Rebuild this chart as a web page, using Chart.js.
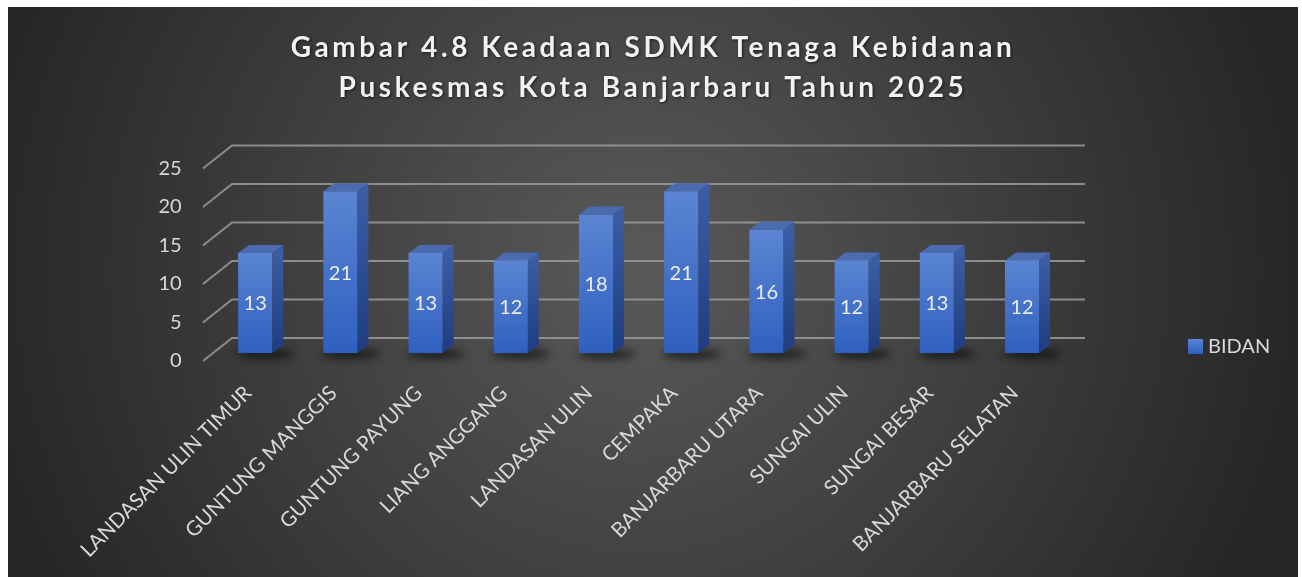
<!DOCTYPE html>
<html>
<head>
<meta charset="utf-8">
<title>Keadaan SDMK Tenaga Kebidanan</title>
<script src="https://cdn.jsdelivr.net/npm/chart.js@4.4.1/dist/chart.umd.min.js"></script>
<style>
  html, body { margin: 0; padding: 0; background: #ffffff; }
  #wrap { position: absolute; left: 8px; top: 7px; width: 1290px; height: 570px; }
</style>
</head>
<body>
<div id="wrap"><canvas id="chart" width="1290" height="570"></canvas></div>
<script>
// chart data
const titleLines = ['Gambar 4.8 Keadaan SDMK Tenaga Kebidanan', 'Puskesmas Kota Banjarbaru Tahun 2025'];
const puskesmas = [
    'LANDASAN ULIN TIMUR', 'GUNTUNG MANGGIS', 'GUNTUNG PAYUNG', 'LIANG ANGGANG', 'LANDASAN ULIN',
    'CEMPAKA', 'BANJARBARU UTARA', 'SUNGAI ULIN', 'SUNGAI BESAR', 'BANJARBARU SELATAN'
];
const bidan = [13, 21, 13, 12, 18, 21, 16, 12, 13, 12];
const yTicks = [0, 5, 10, 15, 20, 25];
const seriesName = 'BIDAN';

const FONT = 'Lato, "Open Sans", sans-serif';
const TEXT_COLOR = '#d9d9d9';
// fake 3D depth of the bars and of the walls
const BAR_DX = 11, BAR_DY = -8;
const WALL_FRONT = { dx: -9.6, dy: 8 };
const WALL_BACK = { dx: 19.4, dy: -15 };

function frontGradient(ctx, top, base) {
    const g = ctx.createLinearGradient(0, top, 0, base);
    g.addColorStop(0, '#5b85d3');
    g.addColorStop(1, '#2f60c0');
    return g;
}

// dark radial background like the office theme
const backgroundPlugin = {
    id: 'background',
    beforeDraw(chart) {
        const { ctx, width, height } = chart;
        const g = ctx.createRadialGradient(630, 260, 20, 630, 260, 680);
        g.addColorStop(0, '#585858');
        g.addColorStop(0.55, '#3c3c3c');
        g.addColorStop(1, '#252525');
        ctx.save();
        ctx.fillStyle = g;
        ctx.fillRect(0, 0, width, height);
        ctx.restore();
    }
};

// walls gridlines + floor shadows, drawn behind the bars
const wallsPlugin = {
    id: 'walls',
    beforeDatasetsDraw(chart) {
        const { ctx, chartArea, scales } = chart;
        const left = chartArea.left;
        ctx.save();
        ctx.strokeStyle = 'rgba(150,150,150,0.9)';
        ctx.lineWidth = 2;
        yTicks.forEach(v => {
            const y = scales.y.getPixelForValue(v);
            ctx.beginPath();
            ctx.moveTo(left + WALL_FRONT.dx, y + WALL_FRONT.dy);
            ctx.lineTo(left + WALL_BACK.dx, y + WALL_BACK.dy);
            ctx.lineTo(chartArea.right + WALL_BACK.dx + 1, y + WALL_BACK.dy);
            ctx.stroke();
        });

        // shadows on the floor
        const meta = chart.getDatasetMeta(0);
        ctx.filter = 'blur(4px)';
        ctx.fillStyle = 'rgba(0,0,0,0.6)';
        meta.data.forEach(bar => {
            ctx.beginPath();
            ctx.ellipse(bar.x + 10, bar.base + 1, bar.width * 0.85, 5, 0, 0, Math.PI * 2);
            ctx.fill();
        });
        ctx.restore();
    },
    afterDatasetsDraw(chart) {
        const { ctx } = chart;
        const meta = chart.getDatasetMeta(0);
        ctx.save();
        meta.data.forEach((bar, i) => {
            const l = bar.x - bar.width / 2;
            const r = bar.x + bar.width / 2;
            const top = bar.y;
            const base = bar.base;

            // side face
            const side = ctx.createLinearGradient(0, top, 0, base);
            side.addColorStop(0, '#3a5da3');
            side.addColorStop(1, '#1f3d80');
            ctx.fillStyle = side;
            ctx.beginPath();
            ctx.moveTo(r, top);
            ctx.lineTo(r + BAR_DX, top + BAR_DY);
            ctx.lineTo(r + BAR_DX, base + BAR_DY);
            ctx.lineTo(r, base);
            ctx.closePath();
            ctx.fill();

            // top face
            ctx.fillStyle = '#4a6bb0';
            ctx.beginPath();
            ctx.moveTo(l, top);
            ctx.lineTo(l + BAR_DX, top + BAR_DY);
            ctx.lineTo(r + BAR_DX, top + BAR_DY);
            ctx.lineTo(r, top);
            ctx.closePath();
            ctx.fill();

            // value label
            ctx.fillStyle = '#ececec';
            ctx.font = '20px ' + FONT;
            ctx.textAlign = 'center';
            ctx.textBaseline = 'middle';
            ctx.fillText(String(bidan[i]), bar.x, (top + base) / 2 + 1);
        });
        ctx.restore();
    }
};

// title and legend
const textPlugin = {
    id: 'texts',
    afterDraw(chart) {
        const { ctx } = chart;
        ctx.save();
        ctx.font = 'bold 28px ' + FONT;
        ctx.letterSpacing = '3.6px';
        ctx.textAlign = 'center';
        ctx.textBaseline = 'middle';
        ctx.shadowColor = 'rgba(0,0,0,0.6)';
        ctx.shadowBlur = 3;
        ctx.shadowOffsetX = 1;
        ctx.shadowOffsetY = 1;
        ctx.fillStyle = '#f2f2f2';
        ctx.fillText(titleLines[0], 645, 41);
        ctx.fillText(titleLines[1], 645, 81);
        ctx.restore();

        ctx.save();
        ctx.fillStyle = frontGradient(ctx, 332, 347);
        ctx.fillRect(1180, 332, 15, 15);
        ctx.font = '20px ' + FONT;
        ctx.fillStyle = TEXT_COLOR;
        ctx.textAlign = 'left';
        ctx.textBaseline = 'middle';
        ctx.fillText(seriesName, 1200, 340);
        ctx.restore();
    }
};

const ctx = document.getElementById('chart').getContext('2d');
new Chart(ctx, {
    type: 'bar',
    data: {
        labels: puskesmas,
        datasets: [{
            label: seriesName,
            data: bidan,
            backgroundColor: (c) => {
                const chart = c.chart;
                if (!chart.chartArea || c.raw === undefined) return '#4472c4';
                const y = chart.scales.y;
                return frontGradient(chart.ctx, y.getPixelForValue(c.raw), y.getPixelForValue(0));
            },
            borderWidth: 0,
            barPercentage: 0.4,
            categoryPercentage: 1.0
        }]
    },
    options: {
        responsive: false,
        animation: false,
        layout: { padding: { top: 153.5, right: 233.4, left: 0, bottom: 0 } },
        plugins: {
            legend: { display: false },
            title: { display: false },
            tooltip: { enabled: false }
        },
        scales: {
            x: {
                grid: { display: false },
                border: { display: false },
                ticks: {
                    color: TEXT_COLOR,
                    font: { family: FONT, size: 20.5 },
                    maxRotation: 45,
                    minRotation: 45,
                    autoSkip: false,
                    padding: 20,
                    labelOffset: -7
                },
                afterFit(scale) { scale.height = 224; }
            },
            y: {
                min: 0,
                max: 25,
                grid: { display: false },
                border: { display: false },
                ticks: {
                    stepSize: 5,
                    color: TEXT_COLOR,
                    font: { family: FONT, size: 20 },
                    padding: 23,
                    labelOffset: 8
                },
                afterFit(scale) { scale.width = 204.6; }
            }
        }
    },
    plugins: [backgroundPlugin, wallsPlugin, textPlugin]
});
</script>
</body>
</html>
